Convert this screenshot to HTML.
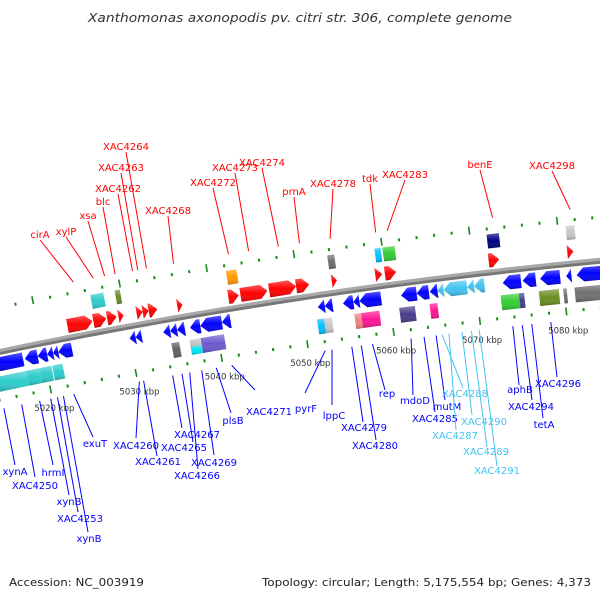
<!DOCTYPE html>
<html><head><meta charset="utf-8"><style>
html,body{margin:0;padding:0;background:#fff;}
svg{display:block;font-family:"DejaVu Sans","Liberation Sans",sans-serif;}
</style></head><body>
<svg id="map" width="600" height="600" viewBox="0 0 600 600" xmlns="http://www.w3.org/2000/svg">
<defs>
<linearGradient id="shade" x1="0" y1="0" x2="0" y2="1">
<stop offset="0" stop-color="#fff" stop-opacity="0.35"/>
<stop offset="0.5" stop-color="#fff" stop-opacity="0"/>
<stop offset="1" stop-color="#000" stop-opacity="0.25"/>
</linearGradient>
</defs>
<text x="88" y="22" font-size="12" font-style="italic" fill="#333" textLength="424" lengthAdjust="spacingAndGlyphs">Xanthomonas axonopodis pv. citri str. 306, complete genome</text>
<text x="9" y="586" font-size="11" fill="#222" textLength="135" lengthAdjust="spacingAndGlyphs">Accession: NC_003919</text>
<text x="262" y="586" font-size="11" fill="#222" textLength="329" lengthAdjust="spacingAndGlyphs">Topology: circular; Length: 5,175,554 bp; Genes: 4,373</text>
<g id="ticks"></g>
<g id="axis"></g>
<g id="genes"></g>
<g id="labels"></g>
</svg>
<script>
// ---- data (kbp) ----
const fwdStart=[5023.3,5026.3,5027.9,5029.2,5031.3,5032.0,5032.7,5036.0,5041.9,5043.3,5046.6,5049.7,5053.8,5058.8,5059.9,5071.8,5080.8];
const fwdEnd  =[5026.2,5027.8,5029.0,5029.8,5032.0,5032.7,5033.7,5036.6,5043.1,5046.4,5049.7,5051.2,5054.4,5059.6,5061.2,5073.0,5081.5];
const revStart=[5014.0,5017.8,5019.3,5020.4,5021.1,5021.7,5030.0,5030.7,5033.9,5034.7,5035.5,5037.0,5038.2,5040.7,5051.8,5052.6,5054.7,5055.9,5056.6,5061.4,5063.2,5064.7,5065.6,5066.3,5069.0,5069.8,5073.1,5075.4,5077.4,5080.4,5081.6];
const revEnd  =[5017.6,5019.3,5020.4,5021.1,5021.7,5023.3,5030.7,5031.4,5034.7,5035.5,5036.4,5038.2,5040.7,5041.7,5052.6,5053.5,5055.9,5056.6,5059.1,5063.2,5064.6,5065.6,5066.3,5069.0,5069.8,5071.0,5075.2,5076.9,5079.7,5081.0,5086.0];
const revColor=["#0000ff","#0000ff","#0000ff","#0000ff","#0000ff","#0000ff","#0000ff","#0000ff","#0000ff","#0000ff","#0000ff","#0000ff","#0000ff","#0000ff","#0000ff","#0000ff","#0000ff","#0000ff","#0000ff","#0000ff","#0000ff","#0000ff","#44c4f0","#44c4f0","#44c4f0","#44c4f0","#0000ff","#0000ff","#0000ff","#0000ff","#0000ff"];
const boxStart=[5026.5,5029.3,5042.1,5053.7,5059.1,5060.0,5071.9,5080.9, 5014.0,5017.7,5019.2,5020.7,5034.6,5036.7,5036.7,5038.0,5051.5,5052.3,5055.8,5056.6,5061.0,5064.5,5072.7,5074.8,5077.1,5079.9,5081.2];
const boxEnd  =[5028.0,5029.9,5043.3,5054.5,5059.8,5061.4,5073.3,5081.9, 5017.7,5019.2,5020.6,5021.9,5035.5,5038.0,5038.0,5040.7,5052.3,5053.2,5056.6,5058.7,5062.8,5065.4,5074.8,5075.4,5079.4,5080.3,5086.0];
const boxRow  =[1,1,1,1,1,1,1,1, -1,-1,-1,-1,-1,-2,-3,-1,-1,-1,-1,-1,-1,-1,-1,-1,-1,-1,-1];
const boxColor=["#2ecccc","#6b8e23","#ff9900","#707070","#00bfff","#33cc33","#000080","#c8c8c8",
 "#2ecccc","#2ecccc","#2ecccc","#2ecccc","#606060","#c8c8c8","#00e5ee","#6a5acd","#00bfff","#c8c8c8","#f08080","#ff1493","#483d8b","#ff1493","#33cc33","#483d8b","#6b8e23","#707070","#707070"];
const tickKbp=[5012,5014,5016,5018,5020,5022,5024,5026,5028,5030,5032,5034,5036,5038,5040,5042,5044,5046,5048,5050,5052,5054,5056,5058,5060,5062,5064,5066,5068,5070,5072,5074,5076,5078,5080,5082,5084,5086,5088];
const tickLabels=["5020 kbp","5030 kbp","5040 kbp","5050 kbp","5060 kbp","5070 kbp","5080 kbp"];
const tickLabelKbp=[5020,5030,5040,5050,5060,5070,5080];
const fwdNames=["cirA","xylP","xsa","blc","XAC4262","XAC4263","XAC4264","XAC4268","XAC4272","XAC4273","XAC4274","prnA","XAC4278","tdk","XAC4283","benE","XAC4298"];
const fwdKbp=[5024.9,5027.2,5028.5,5029.7,5031.7,5032.3,5033.3,5036.4,5042.7,5045.0,5048.4,5050.8,5054.3,5059.5,5060.8,5072.8,5081.6];
const fwdLX=[40,66,88,103,118,121,126,168,213,235,262,294,333,370,405,480,552];
const fwdLY=[240,237,221,207,194,173,152,216,188,173,168,197,189,184,180,170,171];
const revNames=["xynA","XAC4250","hrmI","xynB","XAC4253","xynB","exuT","XAC4260","XAC4261","XAC4267","XAC4265","XAC4266","XAC4269","plsB","XAC4271","pyrF","lppC","XAC4279","XAC4280","rep","mdoD","XAC4285","mutM","XAC4288","XAC4287","XAC4290","XAC4289","XAC4291","aphB","XAC4294","tetA","XAC4296"];
const revKbp=[5014.3,5016.4,5018.5,5019.8,5020.6,5021.3,5022.5,5030.2,5030.7,5034.1,5035.2,5036.1,5037.5,5039.2,5041.0,5051.9,5052.7,5055.0,5056.1,5057.4,5061.9,5063.4,5064.8,5065.5,5066.3,5067.8,5068.9,5069.8,5073.7,5074.8,5075.9,5078.1];
const revEX=[15,35,53,69,78,88,93,136,157,182,193,198,214,231,255,305,332,363,376,385,413,435,445,463,456,472,487,497,519,532,543,557];
const revEY=[465,477,465,495,512,532,437,438,456,428,442,469,455,413,390,393,405,422,440,390,395,412,400,388,430,415,447,466,385,400,418,377];
const revTX=[15,35,53,69,80,89,95,136,158,197,184,197,214,233,269,306,334,364,375,387,415,435,447,465,455,484,486,497,520,531,544,558];
const revTY=[475,489,476,505,522,542,447,449,465,438,451,479,466,424,415,412,419,431,449,397,404,422,410,397,439,425,455,474,393,410,428,387];
const revLabelColor=["#0000ff","#0000ff","#0000ff","#0000ff","#0000ff","#0000ff","#0000ff","#0000ff","#0000ff","#0000ff","#0000ff","#0000ff","#0000ff","#0000ff","#0000ff","#0000ff","#0000ff","#0000ff","#0000ff","#0000ff","#0000ff","#0000ff","#0000ff","#44c4f0","#44c4f0","#44c4f0","#44c4f0","#44c4f0","#0000ff","#0000ff","#0000ff","#0000ff"];

// ---- geometry ----
const NS="http://www.w3.org/2000/svg";
const CX=1121, CY=5718, R=5482;
const PHI0=Math.atan2(373-CY,136-CX);
const K=0.0016;
function P(kbp,off){const a=PHI0+(kbp-5030)*K, r=R+off; return [CX+r*Math.cos(a), CY+r*Math.sin(a)];}
function pts(list){return list.map(p=>p[0].toFixed(2)+","+p[1].toFixed(2)).join(" ");}
function mk(tag,attrs,parent){const e=document.createElementNS(NS,tag);for(const k in attrs)e.setAttribute(k,attrs[k]);parent.appendChild(e);return e;}

const gT=document.getElementById("ticks"), gA=document.getElementById("axis"), gG=document.getElementById("genes"), gL=document.getElementById("labels");

tickKbp.forEach(k=>{
  const major=(k%10===0);
  [[43,major?[40,48]:[42,45]],[-47,major?[-51,-43]:[-48.5,-45.5]]].forEach(r=>{
    const a=P(k,r[1][0]), b=P(k,r[1][1]);
    const ln=mk("line",{x1:a[0],y1:a[1],x2:b[0],y2:b[1],stroke:"#1a8a1a","stroke-width":major?1.6:2},gT);
    
    
  });
});
tickLabels.forEach((t,i)=>{
  const p=P(tickLabelKbp[i],-66);
  const tx=mk("text",{x:p[0],y:p[1]+3,"text-anchor":"middle","font-size":"8.5",fill:"#333"},gT);
  tx.textContent=t;
  
  
});

const axTop=[],axBot=[];
for(let k=5008;k<=5092;k+=1){axTop.push(P(k,1.5));axBot.push(P(k,-1.5));}
const ax1=mk("polyline",{points:pts(axTop),fill:"none",stroke:"#a8a8a8","stroke-width":3},gA);


const ax2=mk("polyline",{points:pts(axBot),fill:"none",stroke:"#777","stroke-width":3},gA);



function arrow(s,e,dir,lo,hi){
  const h=0.8, mid=(lo+hi)/2, len=e-s;
  if(dir>0){
    if(len<=h) return [P(s,lo),P(e,mid),P(s,hi)];
    return [P(s,lo),P(e-h,lo),P(e,mid),P(e-h,hi),P(s,hi)];
  } else {
    if(len<=h) return [P(e,lo),P(s,mid),P(e,hi)];
    return [P(e,lo),P(s+h,lo),P(s,mid),P(s+h,hi),P(e,hi)];
  }
}
function draw(poly,color,name){
  const p=mk("polygon",{points:pts(poly),fill:color},gG);
  
  
  const o=mk("polygon",{points:pts(poly),fill:"url(#shade)"},gG);
  
  
}
fwdStart.forEach((s,i)=>draw(arrow(s,fwdEnd[i],1,5,19),"#ff0000","forward-gene"));
revStart.forEach((s,i)=>draw(arrow(s,revEnd[i],-1,-5,-19),revColor[i],"reverse-gene"));
boxStart.forEach((s,i)=>{
  const row=boxRow[i]; let lo,hi;
  if(row===1){lo=24;hi=38;} else if(row===-1){lo=-24;hi=-39;} else if(row===-2){lo=-24;hi=-31;} else {lo=-31;hi=-39;}
  const e=boxEnd[i];
  draw([P(s,lo),P(e,lo),P(e,hi),P(s,hi)],boxColor[i],"feature-box");
});

fwdNames.forEach((n,i)=>{
  const b=P(fwdKbp[i],54);
  const l=mk("line",{x1:fwdLX[i],y1:fwdLY[i],x2:b[0],y2:b[1],stroke:"#ff0000","stroke-width":1},gL);
  
  
  const t=mk("text",{x:fwdLX[i],y:fwdLY[i]-2,"text-anchor":"middle","font-size":"10",fill:"#ff0000"},gL);
  t.textContent=n;
  
  
});
revNames.forEach((n,i)=>{
  const b=P(revKbp[i],-56);
  const c=revLabelColor[i];
  const l=mk("line",{x1:b[0],y1:b[1],x2:revEX[i],y2:revEY[i],stroke:c,"stroke-width":1},gL);
  
  
  const t=mk("text",{x:revTX[i],y:revTY[i],"text-anchor":"middle","font-size":"10",fill:c},gL);
  t.textContent=n;
  
  
});
</script>
</body></html>
